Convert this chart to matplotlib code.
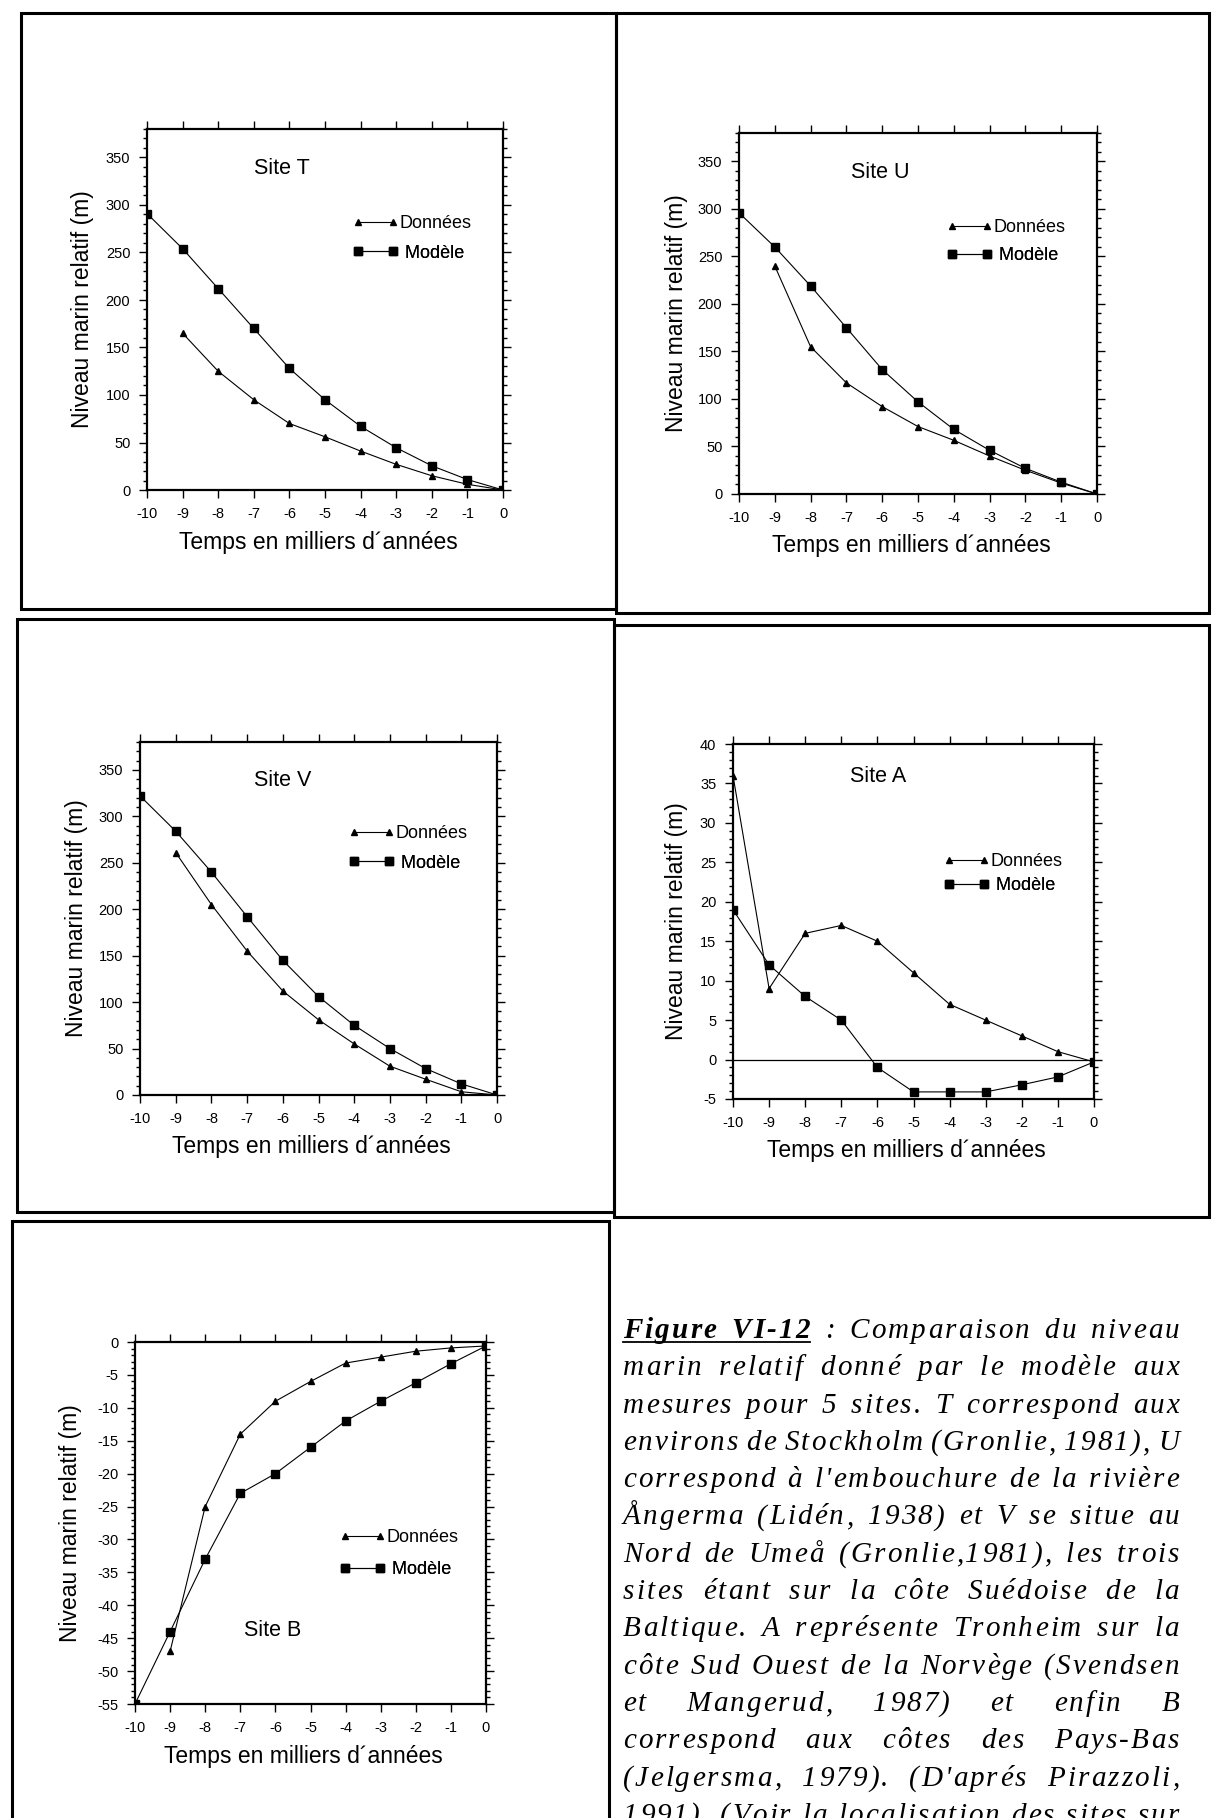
import matplotlib
matplotlib.use("Agg")
import matplotlib.pyplot as plt
from matplotlib.lines import Line2D
from matplotlib.patches import Rectangle
from matplotlib.ticker import MultipleLocator
from matplotlib.font_manager import FontProperties, findfont, get_font

plt.rcParams['font.family'] = ['Liberation Sans', 'DejaVu Sans']
plt.rcParams['axes.unicode_minus'] = False

#---------------------------------------------
# data
#---------------------------------------------
years = [-10, -9, -8, -7, -6, -5, -4, -3, -2, -1, 0]
years_d = [-9, -8, -7, -6, -5, -4, -3, -2, -1, 0]

t_donnees = [165, 125, 95, 70, 56, 41, 27, 15, 6, 0]
t_modele = [291, 254, 212, 170, 128, 95, 67, 44.5, 25.5, 11, 0]

u_donnees = [240, 155, 117, 92, 71, 56.5, 40, 25, 11.5, 0]
u_modele = [296, 260, 219, 175, 131, 97, 68, 46, 27, 12.5, 0]

v_donnees = [261, 205, 155, 112, 81, 55, 31, 17, 3.5, 0]
v_modele = [322, 284, 240, 192, 145, 106, 75, 50, 28.5, 12, 0]

a_donnees = [36, 9, 16, 17, 15, 11, 7, 5, 3, 1, -0.3]
a_modele = [19, 12, 8, 5, -1, -4.1, -4.1, -4.1, -3.2, -2.2, -0.3]

b_donnees = [-47, -25, -14, -9, -6, -3.2, -2.3, -1.4, -0.9, -0.6]
b_modele = [-55, -44, -33, -23, -20, -16, -12, -9, -6.2, -3.3, -0.6]

caption = [
    "Figure VI-12 : Comparaison du niveau",
    "marin relatif donné par le modèle aux",
    "mesures pour 5 sites. T correspond aux",
    "environs de Stockholm (Gronlie, 1981), U",
    "correspond à l'embouchure de la rivière",
    "Ångerma (Lidén, 1938) et V se situe au",
    "Nord de Umeå (Gronlie,1981), les trois",
    "sites étant sur la côte Suédoise de la",
    "Baltique. A représente Tronheim sur la",
    "côte Sud Ouest de la Norvège (Svendsen",
    "et Mangerud, 1987) et enfin B",
    "correspond aux côtes des Pays-Bas",
    "(Jelgersma, 1979). (D'aprés Pirazzoli,",
    "1991). (Voir la localisation des sites sur",
]

#---------------------------------------------
# layout (pixels of the 1213x1818 page)
#---------------------------------------------
W, H = 1213, 1818
fig = plt.figure(figsize=(W / 100, H / 100), dpi=100)


def fx(x):
    return x / W


def fy(y):
    return 1 - y / H


# outer frames of the pasted panels
frames = [(21, 13, 616, 609), (616, 13, 1209, 613), (17, 619, 614, 1212),
          (614, 625, 1209, 1217), (12, 1221, 609, 1840)]
for l, t, r, b in frames:
    fig.add_artist(Rectangle((fx(l), fy(b)), (r - l) / W, (b - t) / H,
                             transform=fig.transFigure, fill=False,
                             ec='black', lw=2.2))

panels = [
    dict(site='Site T', don=t_donnees, mod=t_modele, ylim=(0, 380), step=(50, 10),
         box=(147, 129, 503, 490), lab=(282, 168), leg=(353, 224, 253), yoff=65),
    dict(site='Site U', don=u_donnees, mod=u_modele, ylim=(0, 380), step=(50, 10),
         box=(739, 133, 1097, 494), lab=(880, 173), leg=(947, 228, 256), yoff=63),
    dict(site='Site V', don=v_donnees, mod=v_modele, ylim=(0, 380), step=(50, 10),
         box=(140, 742, 497, 1095), lab=(283, 780), leg=(349, 834, 863), yoff=63),
    dict(site='Site A', don=a_donnees, mod=a_modele, ylim=(-5, 40), step=(5, 1),
         box=(733, 744, 1094, 1099), lab=(878, 777), leg=(944, 862, 886), yoff=57),
    dict(site='Site B', don=b_donnees, mod=b_modele, ylim=(-55, 0), step=(5, 1),
         box=(135, 1342, 486, 1704), lab=(273, 1630), leg=(340, 1538, 1570), yoff=65),
]

for p in panels:
    l, t, r, b = p['box']
    aw, ah = r - l, b - t
    ax = fig.add_axes([fx(l), fy(b), aw / W, ah / H])
    xd = years if len(p['don']) == len(years) else years_d
    hd, = ax.plot(xd, p['don'], color='black', lw=0.8, marker='^', ms=5)
    hm, = ax.plot(years, p['mod'], color='black', lw=0.8, marker='s', ms=6)
    if p['site'] == 'Site A':
        ax.axhline(0, color='black', lw=0.9)
    ax.set_xlim(-10, 0)
    ax.set_ylim(*p['ylim'])
    ax.xaxis.set_major_locator(MultipleLocator(1))
    ax.yaxis.set_major_locator(MultipleLocator(p['step'][0]))
    ax.yaxis.set_minor_locator(MultipleLocator(p['step'][1]))
    ax.tick_params(which='both', direction='out', top=True, right=True,
                   labeltop=False, labelright=False, width=1)
    ax.tick_params(which='major', length=6, labelsize=10.5, pad=6)
    ax.tick_params(which='minor', length=3)
    for s in ax.spines.values():
        s.set_linewidth(1.6)

    ax.set_xlabel('Temps en milliers d´années', fontsize=16.5, va='center')
    ax.xaxis.set_label_coords(0.5 - 7 / aw, -52 / ah)
    ax.set_ylabel('Niveau marin relatif (m)', fontsize=16.5, va='center')
    ax.yaxis.set_label_coords(-p['yoff'] / aw, 0.5)

    fig.text(fx(p['lab'][0]), fy(p['lab'][1]), p['site'], fontsize=15.5,
             ha='center', va='center')

    lx, y1, y2 = p['leg']
    for h, txt, yy in [(hd, 'Données', y1), (hm, ' Modèle', y2)]:
        lg = ax.legend([h], [txt], loc='center left', bbox_to_anchor=(fx(lx), fy(yy)),
                       bbox_transform=fig.transFigure, frameon=False, numpoints=2,
                       handlelength=2.5, handletextpad=0.1, borderpad=0,
                       borderaxespad=0, fontsize=13)
        ax.add_artist(lg)

#---------------------------------------------
# justified italic caption
#---------------------------------------------
fig.canvas.draw()
renderer = fig.canvas.get_renderer()

p_it = FontProperties(family='Liberation Serif', style='italic', size=21)
p_bd = FontProperties(family='Liberation Serif', style='italic', weight='bold', size=21)


def make_adv(prop):
    font = get_font(findfont(prop))

    def raw(s):
        font.set_size(prop.get_size_in_points(), fig.dpi)
        return [font.load_char(ord(c)).linearHoriAdvance / 65536 for c in s]

    ref = "environsdeStockholmGronlie"
    k = renderer.get_text_width_height_descent(ref, prop, ismath=False)[0] / sum(raw(ref))
    return lambda s: [a * k for a in raw(s)]


adv_it = make_adv(p_it)
adv_bd = make_adv(p_bd)

x_left, x_right = 623, 1179
y0, dy = 1338, 37.3
track, min_gap = 2.2, 8
for i, line in enumerate(caption):
    words = line.split(' ')
    styles = [(p_bd, adv_bd) if (i == 0 and j < 2) else (p_it, adv_it)
              for j in range(len(words))]
    advs = [af(w) for w, (pr, af) in zip(words, styles)]
    n_in = sum(len(w) - 1 for w in words)
    bare = sum(sum(a) for a in advs)
    room = x_right - x_left - bare - min_gap * (len(words) - 1)
    t_line = min(track, room / n_in)
    widths = [sum(a) + t_line * (len(w) - 1) for w, a in zip(words, advs)]
    gap = (x_right - x_left - sum(widths)) / (len(words) - 1)
    y = y0 + i * dy
    x = x_left
    for w, wd, a_w, (pr, af) in zip(words, widths, advs, styles):
        cx = x
        for c, a in zip(w, a_w):
            fig.text(fx(cx), fy(y), c, fontproperties=pr, ha='left', va='baseline')
            cx += a + t_line
        x += wd + gap
        if i == 0 and w == 'VI-12':
            fig.add_artist(Line2D([fx(x_left), fx(x - gap)], [fy(y + 4), fy(y + 4)],
                                  transform=fig.transFigure, color='black', lw=1.3))

fig.savefig('out.png', dpi=100)
